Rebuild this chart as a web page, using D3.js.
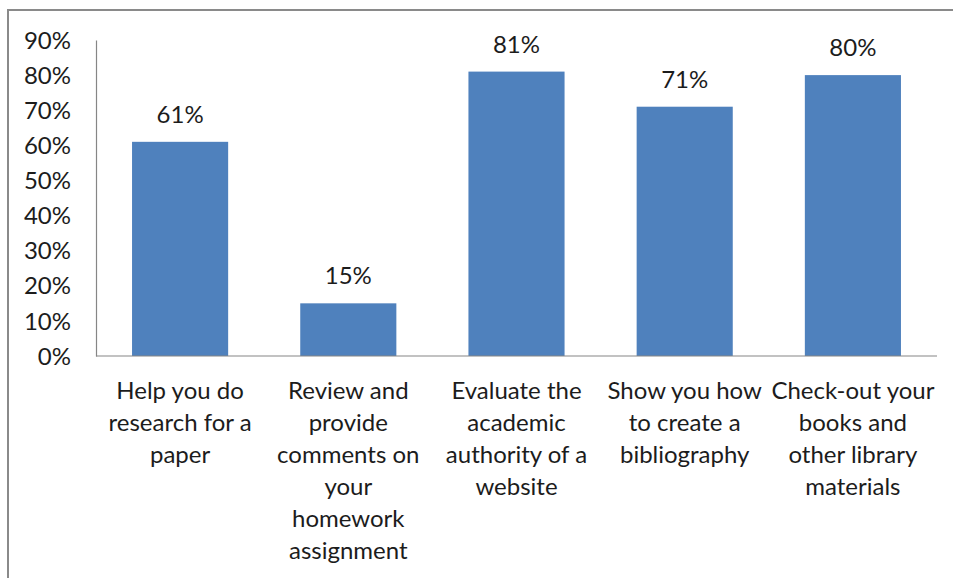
<!DOCTYPE html>
<html>
<head>
<meta charset="utf-8">
<script src="https://cdn.jsdelivr.net/npm/d3@7"></script>
<style>
  html, body { margin: 0; padding: 0; background: #fff; }
  svg { display: block; }
  text { font-family: Lato, "Open Sans", sans-serif; fill: #1c1c1c; }
</style>
</head>
<body>
<svg id="chart" width="953" height="578"></svg>
<script>
// Library services students would use (share of respondents)
const categories = [
  "Help you do\nresearch for a\npaper",
  "Review and\nprovide\ncomments on\nyour\nhomework\nassignment",
  "Evaluate the\nacademic\nauthority of a\nwebsite",
  "Show you how\nto create a\nbibliography",
  "Check-out your\nbooks and\nother library\nmaterials"
];
const values = [0.61, 0.15, 0.81, 0.71, 0.80];
const yTicks = [0, 0.1, 0.2, 0.3, 0.4, 0.5, 0.6, 0.7, 0.8, 0.9];

const svg = d3.select("#chart");
const fontSize = 24;
const lineHeight = 32;

// Plot area
const plot = { left: 96, right: 937, top: 40, bottom: 356 };

// Frame lines along the top and left edge
svg.append("line").attr("x1", 8).attr("x2", 953).attr("y1", 10).attr("y2", 10)
  .attr("stroke", "#8a8a8a").attr("stroke-width", 2);
svg.append("line").attr("x1", 8).attr("x2", 8).attr("y1", 9).attr("y2", 578)
  .attr("stroke", "#8a8a8a").attr("stroke-width", 2);

const x = d3.scaleBand()
  .domain(d3.range(categories.length))
  .range([plot.left, plot.right])
  .paddingInner(0.75 / 1.75)
  .paddingOuter(0.75 / 1.75 / 2);

const y = d3.scaleLinear().domain([0, 0.9]).range([plot.bottom, plot.top]);

// Bars
svg.append("g").selectAll("rect")
  .data(values)
  .join("rect")
  .attr("x", (d, i) => x(i))
  .attr("y", d => y(d))
  .attr("width", x.bandwidth())
  .attr("height", d => y(0) - y(d))
  .attr("fill", "#4f81bd");

// Y axis
const yAxis = svg.append("g")
  .attr("transform", `translate(${plot.left},0)`)
  .call(d3.axisLeft(y).tickValues(yTicks).tickFormat(d3.format(".0%")).tickSize(0).tickSizeOuter(0).tickPadding(25));
yAxis.select(".domain").attr("stroke", "#868686").attr("stroke-width", 1.2);
yAxis.selectAll("text")
  .attr("font-family", null)
  .style("font-size", fontSize + "px")
  .attr("dy", "0.34em");

// X axis baseline
const xAxis = svg.append("g")
  .attr("transform", `translate(0,${plot.bottom})`)
  .call(d3.axisBottom(x).tickSize(0).tickSizeOuter(0).tickFormat(""));
xAxis.select(".domain").attr("stroke", "#868686").attr("stroke-width", 1.2)
  .attr("d", `M${plot.left},0H${plot.right}`);

// Category labels, one tspan per line
const labels = svg.append("g").selectAll("text")
  .data(categories)
  .join("text")
  .attr("text-anchor", "middle")
  .style("font-size", fontSize + "px")
  .attr("x", (d, i) => x(i) + x.bandwidth() / 2)
  .attr("y", 399);
labels.selectAll("tspan")
  .data(d => d.split("\n"))
  .join("tspan")
  .attr("x", function () { return this.parentNode.getAttribute("x"); })
  .attr("dy", (d, i) => i === 0 ? 0 : lineHeight)
  .text(d => d);

// Value labels above bars
svg.append("g").selectAll("text")
  .data(values)
  .join("text")
  .attr("text-anchor", "middle")
  .style("font-size", fontSize + "px")
  .attr("x", (d, i) => x(i) + x.bandwidth() / 2)
  .attr("y", d => y(d) - 19)
  .text(d => d3.format(".0%")(d));
</script>
</body>
</html>
